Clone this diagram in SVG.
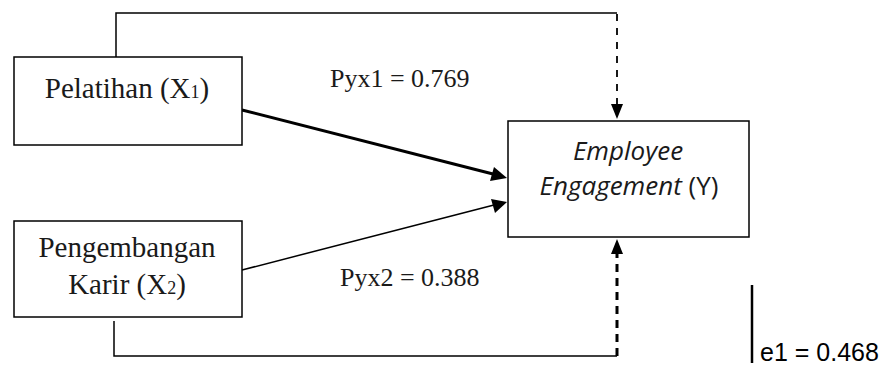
<svg xmlns="http://www.w3.org/2000/svg" width="891" height="367" viewBox="0 0 891 367">
<style>
.box{fill:#fff;stroke:#000;stroke-width:1.5}
.tnr{font-family:"Liberation Serif",serif;fill:#1a1a1a}
.bt{font-size:29px}
.lb{font-size:26px}
.cal{font-family:"Open Sans","Noto Sans",sans-serif;font-size:26px;fill:#1a1a1a}
.ln{fill:none;stroke:#000}
.head{fill:#000}
</style>
<rect width="891" height="367" fill="#fff"/>
<g id="connectors">
<polyline class="ln" stroke-width="1.5" points="116,57 116,13 617,13"/>
<line class="ln" stroke-width="1.8" stroke-dasharray="7,7" x1="617" y1="14" x2="617" y2="106"/>
<path class="head" d="M611,104 L623,104 L617,119 z"/>
<line class="ln" stroke-width="3" x1="242" y1="110" x2="493" y2="174"/>
<path class="head" d="M507,178 L490,181 L494,167 z"/>
<line class="ln" stroke-width="1.5" x1="242" y1="270" x2="494" y2="205"/>
<path class="head" d="M507,202 L495,213 L491,199 z"/>
<polyline class="ln" stroke-width="1.5" points="114,321 114,356 617,356"/>
<line class="ln" stroke-width="3" stroke-dasharray="8,6" x1="617" y1="356" x2="617" y2="253"/>
<path class="head" d="M611,254 L623,254 L617,239 z"/>
<line class="ln" stroke-width="2.5" x1="752" y1="285" x2="752" y2="363"/>
</g>
<g id="x1">
<rect class="box" x="14" y="57" width="228" height="88"/>
<text class="tnr bt" x="127" y="98" text-anchor="middle">Pelatihan (X<tspan font-size="18">1</tspan>)</text>
</g>
<g id="x2">
<rect class="box" x="14" y="221" width="228" height="96"/>
<text class="tnr bt" x="127" y="257" text-anchor="middle">Pengembangan</text>
<text class="tnr bt" x="127" y="294" text-anchor="middle">Karir (X<tspan font-size="18">2</tspan>)</text>
</g>
<g id="y">
<rect class="box" x="508" y="121" width="241" height="116"/>
<text class="cal" x="628" y="160" text-anchor="middle" font-style="italic">Employee</text>
<text class="cal" x="629" y="195" text-anchor="middle"><tspan font-style="italic">Engagement</tspan> (Y)</text>
</g>
<g id="labels">
<text class="tnr lb" x="330" y="87">Pyx1 = 0.769</text>
<text class="tnr lb" x="340" y="286">Pyx2 = 0.388</text>
<text x="760" y="361" font-family="Liberation Sans,sans-serif" font-size="25" fill="#000">e1 = 0.468</text>
</g>
</svg>
